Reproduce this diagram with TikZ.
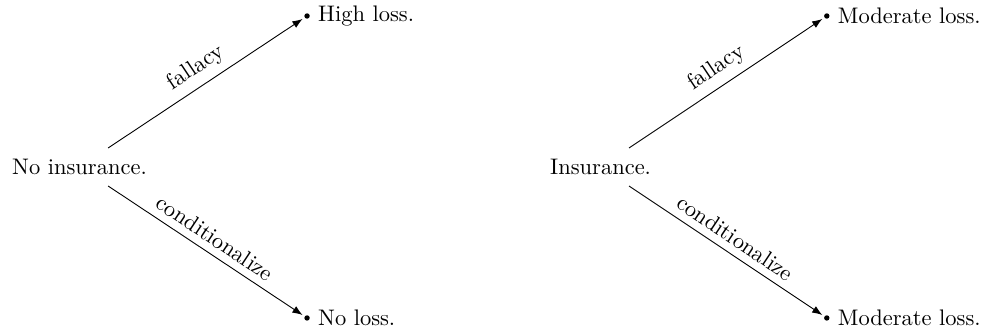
\documentclass[tikz,border=0pt]{standalone}
\usetikzlibrary{arrows.meta}

\begin{document}
\begin{tikzpicture}[
    root/.style={minimum height=16.5pt},
    outcome/.style={circle, fill, inner sep=0pt, minimum size=2.4pt, label distance=3pt},
    branch/.style={-{Latex[length=4.5pt]}, shorten >=1pt}]
    \useasboundingbox (0,-2.547) rectangle (15.42,2.609);
    % without insurance
    \node[root] (noins) at (1.242,0) {No insurance.};
    \node[outcome, label=right:{High loss.}] (high) at (4.797,2.359) {};
    \node[outcome, label=right:{No loss.}] (noloss) at (4.797,-2.359) {};
    \draw[branch] (noins) -- (high) node[midway, above, sloped] {fallacy};
    \draw[branch] (noins) -- (noloss) node[midway, above, sloped] {conditionalize};
    % with insurance
    \node[root] (ins) at (9.383,0) {Insurance.};
    \node[outcome, label=right:{Moderate loss.}] (modup) at (12.917,2.359) {};
    \node[outcome, label=right:{Moderate loss.}] (moddown) at (12.917,-2.359) {};
    \draw[branch] (ins) -- (modup) node[midway, above, sloped] {fallacy};
    \draw[branch] (ins) -- (moddown) node[midway, above, sloped] {conditionalize};
\end{tikzpicture}
\end{document}
